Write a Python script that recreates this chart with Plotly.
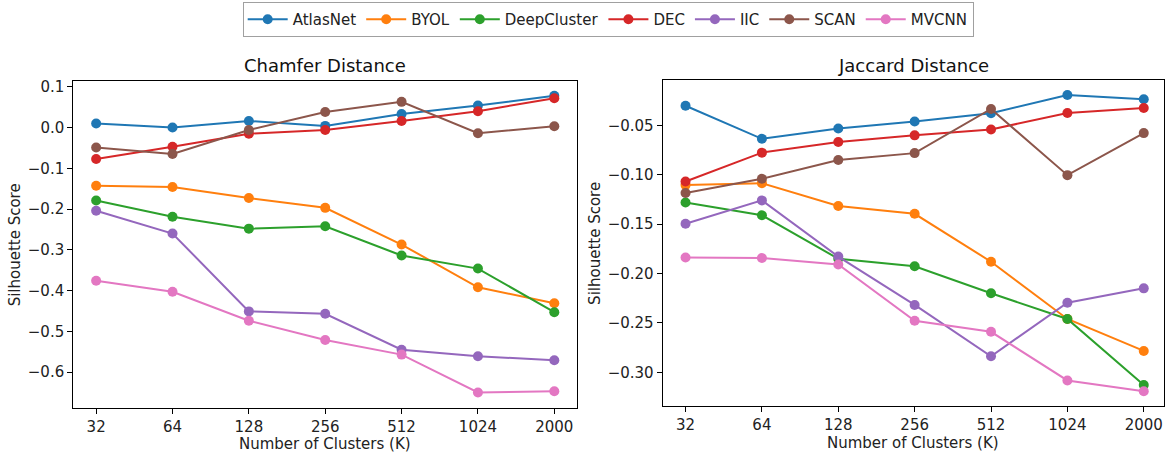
import plotly.graph_objects as go

categories = ["32", "64", "128", "256", "512", "1024", "2000"]
methods = ["AtlasNet", "BYOL", "DeepCluster", "DEC", "IIC", "SCAN", "MVCNN"]
colors = ["#1f77b4", "#ff7f0e", "#2ca02c", "#d62728", "#9467bd", "#8c564b", "#e377c2"]

# Chamfer Distance silhouette scores
chamfer_atlasnet = [0.010, 0.000, 0.016, 0.004, 0.033, 0.054, 0.078]
chamfer_byol = [-0.143, -0.146, -0.173, -0.197, -0.287, -0.392, -0.431]
chamfer_deepcluster = [-0.179, -0.219, -0.248, -0.242, -0.314, -0.346, -0.453]
chamfer_dec = [-0.077, -0.047, -0.015, -0.006, 0.016, 0.040, 0.072]
chamfer_iic = [-0.204, -0.260, -0.451, -0.457, -0.545, -0.561, -0.571]
chamfer_scan = [-0.049, -0.065, -0.006, 0.038, 0.063, -0.014, 0.003]
chamfer_mvcnn = [-0.376, -0.403, -0.474, -0.521, -0.557, -0.650, -0.647]

# Jaccard Distance silhouette scores
jaccard_atlasnet = [-0.030, -0.0635, -0.053, -0.046, -0.0376, -0.0192, -0.0235]
jaccard_byol = [-0.1104, -0.1084, -0.1315, -0.1395, -0.188, -0.246, -0.2784]
jaccard_deepcluster = [-0.128, -0.141, -0.185, -0.1926, -0.220, -0.246, -0.313]
jaccard_dec = [-0.1067, -0.0775, -0.0668, -0.060, -0.054, -0.0373, -0.0323]
jaccard_iic = [-0.1496, -0.1259, -0.1828, -0.2318, -0.2838, -0.2295, -0.215]
jaccard_scan = [-0.1184, -0.104, -0.0849, -0.078, -0.0333, -0.1003, -0.0577]
jaccard_mvcnn = [-0.1838, -0.1842, -0.1908, -0.2479, -0.259, -0.3083, -0.3193]

chamfer = [chamfer_atlasnet, chamfer_byol, chamfer_deepcluster, chamfer_dec,
           chamfer_iic, chamfer_scan, chamfer_mvcnn]
jaccard = [jaccard_atlasnet, jaccard_byol, jaccard_deepcluster, jaccard_dec,
           jaccard_iic, jaccard_scan, jaccard_mvcnn]

left_ticks = [0.1, 0.0, -0.1, -0.2, -0.3, -0.4, -0.5, -0.6]
left_ticktext = ["0.1", "0.0", "\u22120.1", "\u22120.2", "\u22120.3", "\u22120.4", "\u22120.5", "\u22120.6"]
right_ticks = [-0.05, -0.10, -0.15, -0.20, -0.25, -0.30]
right_ticktext = ["\u22120.05", "\u22120.10", "\u22120.15", "\u22120.20", "\u22120.25", "\u22120.30"]

FONT = "DejaVu Sans"
W, H = 1165, 452

fig = go.Figure()
for i, m in enumerate(methods):
    fig.add_trace(go.Scatter(
        x=categories, y=chamfer[i], name=m, mode="lines+markers",
        line=dict(color=colors[i], width=2), marker=dict(color=colors[i], size=10),
        legendgroup=m, showlegend=True, xaxis="x", yaxis="y"))
for i, m in enumerate(methods):
    fig.add_trace(go.Scatter(
        x=categories, y=jaccard[i], name=m, mode="lines+markers",
        line=dict(color=colors[i], width=2), marker=dict(color=colors[i], size=10),
        legendgroup=m, showlegend=False, xaxis="x2", yaxis="y2"))

def px_x(p):
    return p / W

def px_y(p):
    return (H - p) / H

axis_common = dict(showgrid=False, zeroline=False, showline=True, linecolor="black",
                   linewidth=1, mirror=True, ticks="outside", ticklen=5, tickwidth=1,
                   tickcolor="black", tickfont=dict(family=FONT, size=15, color="#222"))

fig.update_layout(
    width=W, height=H,
    margin=dict(l=0, r=0, t=0, b=0),
    paper_bgcolor="white", plot_bgcolor="white",
    font=dict(family=FONT, size=15, color="#222"),
    xaxis=dict(domain=[px_x(73.3), px_x(577.7)], type="category", range=[-0.3, 6.3],
               anchor="y", **axis_common),
    yaxis=dict(domain=[px_y(407.3), px_y(79)], range=[-0.687, 0.113],
               tickvals=left_ticks, ticktext=left_ticktext, anchor="x", **axis_common),
    xaxis2=dict(domain=[px_x(663.2), 1.0], type="category", range=[-0.3, 6.265],
                anchor="y2", **axis_common),
    yaxis2=dict(domain=[px_y(405.7), px_y(77.7)], range=[-0.3342, -0.0041],
                tickvals=right_ticks, ticktext=right_ticktext, anchor="x2", **axis_common),
    legend=dict(orientation="h", x=0.5225, xanchor="center", y=px_y(-1), yanchor="top",
                bordercolor="#a0a0a0", borderwidth=1, bgcolor="white",
                font=dict(family=FONT, size=15, color="#222"), itemwidth=40),
    showlegend=True,
)

annotations = [
    dict(text="Chamfer Distance", x=px_x(325.5), y=px_y(63), xref="paper", yref="paper",
         showarrow=False, font=dict(family=FONT, size=18, color="#111"),
         xanchor="center", yanchor="middle"),
    dict(text="Jaccard Distance", x=px_x(914), y=px_y(63), xref="paper", yref="paper",
         showarrow=False, font=dict(family=FONT, size=18, color="#111"),
         xanchor="center", yanchor="middle"),
    dict(text="Number of Clusters (K)", x=px_x(325.5), y=px_y(444), xref="paper", yref="paper",
         showarrow=False, font=dict(family=FONT, size=15, color="#222"),
         xanchor="center", yanchor="middle"),
    dict(text="Number of Clusters (K)", x=px_x(914), y=px_y(443), xref="paper", yref="paper",
         showarrow=False, font=dict(family=FONT, size=15, color="#222"),
         xanchor="center", yanchor="middle"),
    dict(text="Silhouette Score", x=px_x(15), y=px_y(243), xref="paper", yref="paper",
         showarrow=False, textangle=-90, font=dict(family=FONT, size=15, color="#222"),
         xanchor="center", yanchor="middle"),
    dict(text="Silhouette Score", x=px_x(596), y=px_y(242), xref="paper", yref="paper",
         showarrow=False, textangle=-90, font=dict(family=FONT, size=15, color="#222"),
         xanchor="center", yanchor="middle"),
]
fig.update_layout(annotations=annotations)

fig.write_html("out.html", config={"displayModeBar": False},
               post_script="document.body.style.margin='0';document.body.style.padding='0';document.body.style.overflow='hidden';")
